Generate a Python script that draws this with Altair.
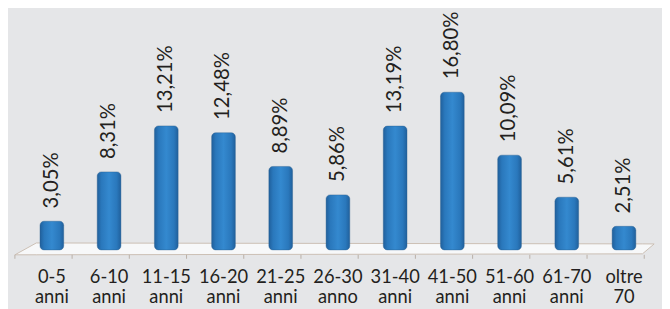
import altair as alt
import pandas as pd

# ---- data ----
fasce = ["0-5", "6-10", "11-15", "16-20", "21-25", "26-30",
         "31-40", "41-50", "51-60", "61-70", "oltre"]
unita = ["anni", "anni", "anni", "anni", "anni", "anno",
         "anni", "anni", "anni", "anni", "70"]
valori = [3.05, 8.31, 13.21, 12.48, 8.89, 5.86, 13.19, 16.80, 10.09, 5.61, 2.51]

n = len(fasce)
df = pd.DataFrame({
    "i": list(range(n)),
    "fascia": fasce,
    "unita": unita,
    "valore": valori,
    "etichetta": [f"{v:.2f}".replace(".", ",") + "%" for v in valori],
})

W, H = 662, 301
FONT = "Lato"
BG = "#e5e6e8"

x_scale = alt.Scale(domain=[-0.6803, 10.578], nice=False, zero=False)
y_scale = alt.Scale(domain=[-6.105, 25.579], nice=False, zero=False)
X = lambda f: alt.X(f, type="quantitative", scale=x_scale, axis=None)
Y = lambda f: alt.Y(f, type="quantitative", scale=y_scale, axis=None)

# floor (perspective plane) in scale units
floor = pd.DataFrame({
    "x": [-0.646, -0.272, n - 1 + 0.323, n - 1 + 0.527],
    "y": [-0.526, 0.737, 0.64, 0.632],
    "y2": [-0.526, -0.522, -0.421, 0.632],
})
floor_area = alt.Chart(floor).mark_area(
    color="#f7f8f9", stroke="#cbbfb4", strokeWidth=1, interpolate="linear"
).encode(x=X("x"), y=Y("y"), y2="y2")

ticks = pd.DataFrame({"x": [k - 0.646 for k in range(n + 1)]})
tick_rules = alt.Chart(ticks).mark_rule(color="#b9b0a8", strokeWidth=1).encode(
    x=X("x"), y=alt.value(248), y2=alt.value(252)
)

grad = alt.Gradient(
    gradient="linear", x1=0, x2=1, y1=0, y2=0,
    stops=[
        alt.GradientStop(color="#20609c", offset=0),
        alt.GradientStop(color="#2a78bc", offset=0.18),
        alt.GradientStop(color="#3489cf", offset=0.5),
        alt.GradientStop(color="#2a78bc", offset=0.82),
        alt.GradientStop(color="#20609c", offset=1),
    ],
)
bars = alt.Chart(df).mark_bar(
    width=24, color=grad, stroke="#2a5f90", strokeWidth=0.6, strokeOpacity=0.7,
    cornerRadiusTopLeft=4, cornerRadiusTopRight=4,
    cornerRadiusBottomLeft=4, cornerRadiusBottomRight=4,
).encode(x=X("i"), y=Y("valore"), y2=alt.Y2(datum=0))

labels = alt.Chart(df).mark_text(
    angle=270, align="left", baseline="middle", dx=13,
    font=FONT, fontSize=20.5, color="#231f20",
).encode(x=X("i"), y=Y("valore"), text="etichetta")

cats = alt.Chart(df).transform_calculate(
    doppia="[datum.fascia, datum.unita]"
).mark_text(
    align="center", baseline="alphabetic", font=FONT, fontSize=18.5,
    lineHeight=20, color="#231f20"
).encode(x=X("i"), y=alt.value(277), text=alt.Text("doppia:N"))

chart = alt.layer(floor_area, tick_rules, bars, labels, cats).properties(
    width=W, height=H, background=BG, padding=0,
    autosize=alt.AutoSizeParams(type="none"),
).configure_view(stroke=None)

chart.save("out.html", embed_options={"renderer": "svg", "actions": False})
